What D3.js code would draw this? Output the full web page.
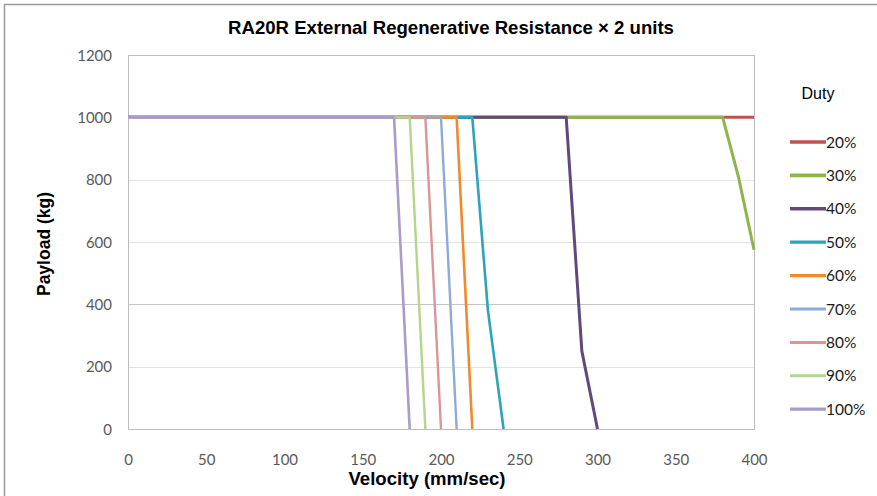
<!DOCTYPE html>
<html><head><meta charset="utf-8">
<script src="https://cdn.jsdelivr.net/npm/d3@7"></script>
<style>
html,body{margin:0;padding:0;background:#fff;}
svg{display:block;}
</style></head>
<body>
<svg id="chart" width="877" height="496"></svg>
<script>
// ---- data ----
const seriesNames = ["20%","30%","40%","50%","60%","70%","80%","90%","100%"];
const velocity20 = [0, 400];           const payload20 = [1000, 1000];
const velocity30 = [0, 380, 390, 400]; const payload30 = [1000, 1000, 810, 575];
const velocity40 = [0, 280, 290, 300]; const payload40 = [1000, 1000, 250, 0];
const velocity50 = [0, 220, 230, 240]; const payload50 = [1000, 1000, 380, 0];
const velocity60 = [0, 210, 220];      const payload60 = [1000, 1000, 0];
const velocity70 = [0, 200, 210];      const payload70 = [1000, 1000, 0];
const velocity80 = [0, 190, 200];      const payload80 = [1000, 1000, 0];
const velocity90 = [0, 180, 190];      const payload90 = [1000, 1000, 0];
const velocity100 = [0, 170, 180];     const payload100 = [1000, 1000, 0];
const xTicks = [0, 50, 100, 150, 200, 250, 300, 350, 400];
const yTicks = [0, 200, 400, 600, 800, 1000, 1200];
const colors = ["#c0504d","#8db54a","#604a7b","#2fa3bb","#f08a2c","#8eaad6","#d99694","#b5d58a","#a99cc8"];
const widths = [3, 3, 3, 2.6, 2.6, 2.4, 2.4, 2.4, 2.6];

const velocities = [velocity20,velocity30,velocity40,velocity50,velocity60,velocity70,velocity80,velocity90,velocity100];
const payloads = [payload20,payload30,payload40,payload50,payload60,payload70,payload80,payload90,payload100];
const series = seriesNames.map((n,i)=>({name:n, pts: velocities[i].map((v,j)=>[v, payloads[i][j]])}));

const svg = d3.select("#chart");
const font = "Lato, 'Open Sans', sans-serif";
const boldFont = "'Liberation Sans Narrow', 'Liberation Sans', Arial, sans-serif";

// outer chart border
svg.append("rect").attr("x",4.5).attr("y",4.5).attr("width",900).attr("height",600)
  .attr("fill","none").attr("stroke","#9a9a9a").attr("stroke-width",1.5);

const x = d3.scaleLinear().domain([0,400]).range([128,754]);
const y = d3.scaleLinear().domain([0,1200]).range([429,55]);

// gridlines
svg.append("g").selectAll("line").data(yTicks).join("line")
  .attr("x1",x(0)).attr("x2",x(400))
  .attr("y1",d=>Math.round(y(d))+0.5).attr("y2",d=>Math.round(y(d))+0.5)
  .attr("stroke",d=>d===400?"#c4c4c4":"#e4e4e4").attr("stroke-width",1);

// plot border
svg.append("rect").attr("x",x(0)+0.5).attr("y",y(1200)+0.5)
  .attr("width",x(400)-x(0)).attr("height",y(0)-y(1200))
  .attr("fill","none").attr("stroke","#bdbdbd").attr("stroke-width",1);

// axes (labels only)
const xAxis = svg.append("g").attr("transform",`translate(0,${y(0)+36})`)
  .call(d3.axisBottom(x).tickValues(xTicks).tickFormat(d3.format("d")).tickSize(0).tickPadding(0));
xAxis.select(".domain").remove();
xAxis.selectAll("text").attr("font-family",font).attr("font-size",15).attr("fill","#595959").attr("dy","0");

const yAxis = svg.append("g").attr("transform",`translate(${x(0)-16},0)`)
  .call(d3.axisLeft(y).tickValues(yTicks).tickFormat(d3.format("d")).tickSize(0).tickPadding(0));
yAxis.select(".domain").remove();
yAxis.selectAll("text").attr("font-family",font).attr("font-size",15).attr("fill","#595959").attr("dy","0.35em");

// lines
const line = d3.line().x(d=>x(d[0])).y(d=>y(d[1]));
svg.append("g").selectAll("path").data(series).join("path")
  .attr("d",d=>line(d.pts)).attr("fill","none")
  .attr("stroke",(d,i)=>colors[i]).attr("stroke-width",(d,i)=>widths[i])
  .attr("stroke-linejoin","round");

// titles
svg.append("text").attr("x",451).attr("y",34).attr("text-anchor","middle")
  .attr("font-family",boldFont).attr("font-weight","bold")
  .attr("font-size",18.6).attr("fill","#000").text("RA20R External Regenerative Resistance × 2 units");
svg.append("text").attr("x",427).attr("y",485).attr("text-anchor","middle")
  .attr("font-family",boldFont).attr("font-weight","bold")
  .attr("font-size",18.6).attr("fill","#000").text("Velocity (mm/sec)");
svg.append("text").attr("transform","translate(50,244) rotate(-90)").attr("text-anchor","middle")
  .attr("font-family",boldFont).attr("font-weight","bold")
  .attr("font-size",17.5).attr("fill","#000").text("Payload (kg)");

// legend
svg.append("text").attr("x",818).attr("y",99).attr("text-anchor","middle")
  .attr("font-family","'Liberation Sans', Arial, sans-serif").attr("font-size",16).attr("fill","#000").text("Duty");
const leg = svg.append("g").selectAll("g").data(series).join("g")
  .attr("transform",(d,i)=>`translate(790,${142 + i*33.4})`);
leg.append("line").attr("x1",0).attr("x2",36).attr("y1",0).attr("y2",0)
  .attr("stroke",(d,i)=>colors[i]).attr("stroke-width",(d,i)=>widths[i]+0.6);
leg.append("text").attr("x",36).attr("y",0).attr("dy","0.36em")
  .attr("font-family",font).attr("font-size",15.5).attr("fill","#1a1a1a").text(d=>d.name);
</script>
</body></html>
